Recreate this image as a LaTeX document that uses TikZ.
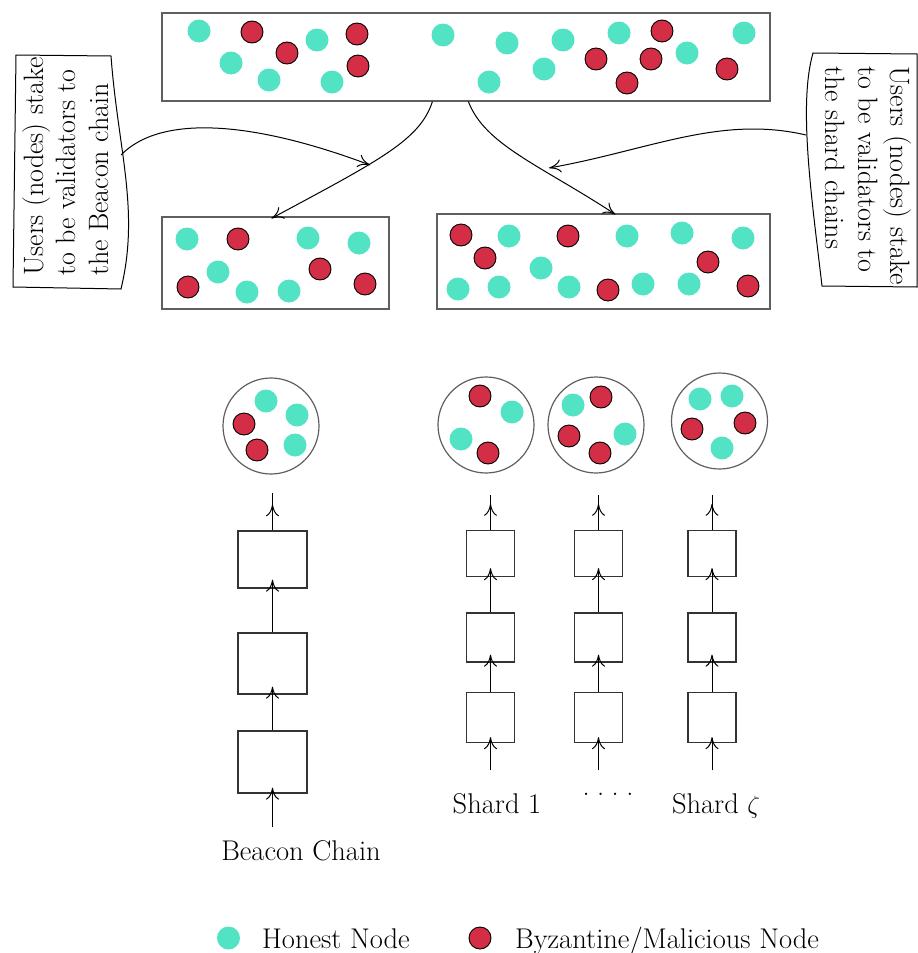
\documentclass[tikz,border=0pt]{standalone}
\usetikzlibrary{arrows.meta,calc}
\definecolor{honest}{RGB}{82,227,196}
\definecolor{byz}{RGB}{211,46,70}
\definecolor{frame}{RGB}{95,95,95}
\begin{document}
\begin{tikzpicture}[x=1pt,y=-1pt,
  every node/.style={font=\fontsize{28.5}{32.5}\selectfont},
  hon/.style={circle,fill=honest,inner sep=0pt,minimum size=23pt},
  mal/.style={circle,fill=byz,draw=black,line width=0.9pt,inner sep=0pt,minimum size=22pt},
  pool/.style={draw=frame,line width=1.2pt,inner sep=0pt},
  blk/.style={draw=black!80,line width=1.3pt,inner sep=0pt,minimum width=48pt},
  comm/.style={circle,draw=frame,line width=1.2pt,minimum size=96pt,inner sep=0pt},
  arr/.style={-{Computer Modern Rightarrow[length=12pt,width=13pt]},line width=1pt},
  ln/.style={line width=1pt},
  callout/.style={align=left,inner sep=0pt,font=\fontsize{28}{32.5}\selectfont},
  lbl/.style={inner sep=0pt,anchor=base}]
\useasboundingbox (0,0) rectangle (918,953);

% validator pool
\node[pool,minimum width=608pt,minimum height=88pt] (pool) at (466,57) {};
\foreach \x/\y [count=\i] in {199/31,231/63,269/80,317/40,332/82,443/35,507/43,563/40,619/33,687/53,744/33,489/82,544/69}
  \node[hon] (ph\i) at (\x,\y) {};
\foreach \x/\y [count=\i] in {252/32,287/53,357/34,358/66,662/31,596/59,651/59,627/83,727/69}
  \node[mal] (pm\i) at (\x,\y) {};

% beacon validators
\node[pool,minimum width=227pt,minimum height=92pt] (bv) at (275.5,263) {};
\foreach \x/\y [count=\i] in {187/239,218/272,247/292,289/291,308/238,359/243}
  \node[hon] (bh\i) at (\x,\y) {};
\foreach \x/\y [count=\i] in {238/239,188/287,320/269,365/284}
  \node[mal] (bm\i) at (\x,\y) {};

% shard validators
\node[pool,minimum width=333pt,minimum height=95pt] (sv) at (603.5,261.5) {};
\foreach \x/\y [count=\i] in {509/236,458/289,499/287,541/268,569/287,627/236,643/284,682/233,689/284,743/238}
  \node[hon] (sh\i) at (\x,\y) {};
\foreach \x/\y [count=\i] in {461/235,485/258,568/236,608/290,708/262,748/286}
  \node[mal] (sm\i) at (\x,\y) {};

% callouts
\draw[ln] (16,55) -- (111,56) .. controls (118,150) and (140,210) .. (121,289) -- (13,287) -- cycle;
\node[callout,rotate=90,anchor=north west] (cl) at (22,276)
  {Users (nodes) stake\\to be validators to\\the Beacon chain};
\draw[ln] (813,53) -- (917,54) -- (917,287) -- (822,286) .. controls (812,200) and (798,105) .. (813,53) -- cycle;
\node[callout,rotate=-90,anchor=north west] (cr) at (912,66)
  {Users (nodes) stake\\to be validators to\\the shard chains};

% connectors
\coordinate (pl) at ($(pool.south west)+(271,0)$);
\coordinate (pr) at ($(pool.south west)+(307,0)$);
\coordinate (bvt) at ($(bv.north west)+(110,2)$);
\coordinate (svt) at ($(sv.north west)+(179,1)$);
\coordinate (lcs) at (121,155);
\coordinate (lce) at (370,165);
\coordinate (rcs) at (806,135);
\coordinate (rce) at (549,168);
\draw[arr] (pl) .. controls (420,140) and (380,160) .. (bvt);
\draw[arr] (pr) .. controls (485,145) and (540,165) .. (svt);
\draw[arr] (lcs) .. controls (160,115) and (250,120) .. (lce);
\draw[arr] (rcs) .. controls (720,115) and (650,150) .. (rce);

% committees
\node[comm] (c1) at (271,426) {};
\node[comm] (c2) at (486,425) {};
\node[comm] (c3) at (596,425) {};
\node[comm] (c4) at (719.5,421) {};
\foreach \x/\y [count=\i] in {266/401,297/415,295/445,512/412,461/439,573/405,625/434,700/399,732/396,722/448}
  \node[hon] (ch\i) at (\x,\y) {};
\foreach \x/\y [count=\i] in {244/424,257/450,480/396,488/453,601/397,569/436,600/453,692/429,745/423}
  \node[mal] (cm\i) at (\x,\y) {};

% beacon chain
\node[blk,minimum width=69pt,minimum height=57pt] (b1) at (272.5,559.5) {};
\node[blk,minimum width=69pt,minimum height=61pt] (b2) at (272.5,663.5) {};
\node[blk,minimum width=69pt,minimum height=62pt] (b3) at (272.5,762) {};
\coordinate (b0) at (272.5,827);
\coordinate (bt) at (272.5,493);
\draw[arr] (b0) -- ($(b3.south)+(0,-6)$);
\draw[arr] (b3.north) -- ($(b2.south)+(0,-8)$);
\draw[arr] (b2.north) -- ($(b1.south)+(0,-9)$);
\draw[ln] (b1.north) -- (bt);
\draw[arr] (b1.north) -- ++(0,-26);

% shard chains
\foreach \n/\x in {s/490.5,t/598.5,u/712} {
  \node[blk,minimum height=46pt] (\n1) at (\x,553.5) {};
  \node[blk,minimum height=49pt] (\n2) at (\x,637.5) {};
  \node[blk,minimum height=50pt] (\n3) at (\x,717.5) {};
  \coordinate (\n0) at (\x,770);
  \coordinate (\n t) at (\x,495);
  \draw[arr] (\n0) -- ($(\n3.south)+(0,-6)$);
  \draw[arr] (\n3.north) -- ($(\n2.south)+(0,-8)$);
  \draw[arr] (\n2.north) -- ($(\n1.south)+(0,-9)$);
  \draw[ln] (\n1.north) -- (\n t);
  \draw[arr] (\n1.north) -- ++(0,-26);
}

% labels
\node[lbl] (lb) at (301,860) {Beacon Chain};
\node[lbl] (ls1) at (497,813) {Shard 1};
\node[lbl] (ldots) at (608,795) {.\hskip7.5pt.\hskip7.5pt.\hskip7.5pt.};
\node[lbl] (lsz) at (716,813) {Shard $\zeta$};

% legend
\node[hon] (lh) at (228.5,938) {};
\node[inner sep=0pt,anchor=base west] (lht) at (262,948) {Honest Node};
\node[mal] (lm) at (480,938) {};
\node[inner sep=0pt,anchor=base west] (lmt) at (515,948) {Byzantine/Malicious Node};
\end{tikzpicture}
\end{document}
